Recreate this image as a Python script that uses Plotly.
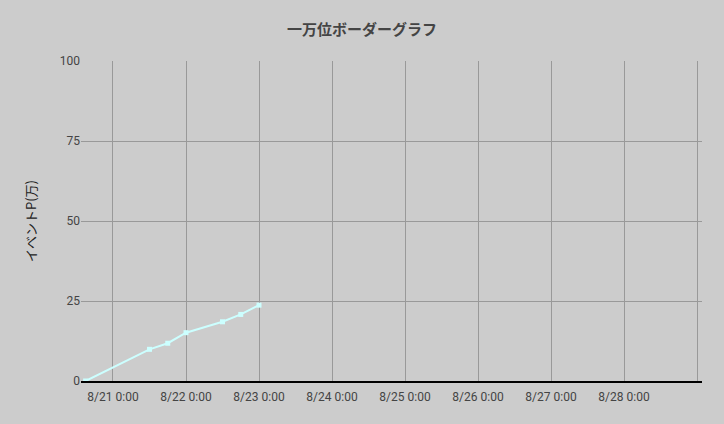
import plotly.graph_objects as go

times = ["2023-08-20 15:00", "2023-08-21 12:00", "2023-08-21 18:00", "2023-08-22 00:00",
         "2023-08-22 12:00", "2023-08-22 18:00", "2023-08-23 00:00"]
points = [0, 9.9, 11.8, 15.1, 18.5, 20.8, 23.7]
tick_vals = ["2023-08-21", "2023-08-22", "2023-08-23", "2023-08-24", "2023-08-25",
             "2023-08-26", "2023-08-27", "2023-08-28", "2023-08-29"]
tick_text = ["8/21 0:00", "8/22 0:00", "8/23 0:00", "8/24 0:00", "8/25 0:00",
             "8/26 0:00", "8/27 0:00", "8/28 0:00", ""]

fig = go.Figure()
fig.add_trace(go.Scatter(
    x=times, y=points, mode="lines+markers",
    line=dict(color="#ccffff", width=2),
    marker=dict(symbol="square", size=5, color="#ccffff"),
    showlegend=False,
))

fig.update_layout(
    width=724, height=424,
    paper_bgcolor="#cccccc", plot_bgcolor="#cccccc",
    margin=dict(l=81, r=22, t=61, b=43),
    font=dict(family="Roboto, 'Noto Sans CJK JP'", size=12, color="#444444"),
    title=dict(text="<b>一万位ボーダーグラフ</b>", x=0.5, xanchor="center", y=0.93, yanchor="middle",
               font=dict(family="'Noto Sans CJK JP'", size=15, color="#444444")),
    xaxis=dict(
        type="date",
        range=["2023-08-20 13:29", "2023-08-29 01:38"],
        tickvals=tick_vals, ticktext=tick_text,
        showgrid=True, gridcolor="#999999", gridwidth=1,
        showline=True, linecolor="#000000", linewidth=1.5,
        zeroline=False, ticks="", ticklabelstandoff=4,
        tickfont=dict(family="Roboto", size=12, color="#444444"),
    ),
    yaxis=dict(
        range=[0, 100], tickvals=[0, 25, 50, 75, 100],
        showgrid=True, gridcolor="#999999", gridwidth=1,
        zeroline=False, showline=False, ticks="",
        title=dict(text="イベントP(万)", standoff=20,
                   font=dict(family="'Noto Sans CJK JP'", size=13, color="#222222")),
        tickfont=dict(family="Roboto", size=12, color="#444444"),
    ),
)

fig.write_html("out.html", config={"displayModeBar": False},
               post_script="document.body.style.margin='0';document.body.style.background='#cccccc';")
